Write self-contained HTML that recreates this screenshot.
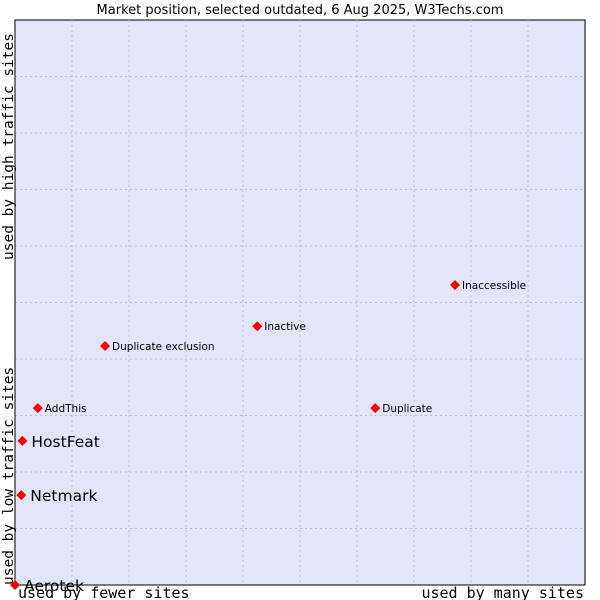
<!DOCTYPE html>
<html><head><meta charset="utf-8"><style>
body{margin:0;background:#fff;width:600px;height:600px;overflow:hidden}
svg{display:block}
</style></head><body>
<svg id="chart" width="600" height="600" xmlns="http://www.w3.org/2000/svg">
<text x="300" y="14" text-anchor="middle" font-family="DejaVu Sans, sans-serif" font-size="13" fill="#000">Market position, selected outdated, 6 Aug 2025, W3Techs.com</text>
<rect x="15" y="20" width="570" height="565" fill="#e2e4f8" stroke="#000" stroke-width="1"/>
<g id="grid"></g>
<line x1="15" y1="20" x2="15" y2="585" stroke="#000"/>
<line x1="15" y1="585" x2="585" y2="585" stroke="#000"/>
<text x="18" y="598" font-family="DejaVu Sans Mono, monospace" font-size="15">used by fewer sites</text>
<text x="584" y="598" text-anchor="end" font-family="DejaVu Sans Mono, monospace" font-size="15">used by many sites</text>
<text transform="translate(13,585) rotate(-90)" font-family="DejaVu Sans Mono, monospace" font-size="14.5">used by low traffic sites</text>
<text transform="translate(13,260) rotate(-90)" font-family="DejaVu Sans Mono, monospace" font-size="14.5">used by high traffic sites</text>
<g id="points"></g>
</svg>
<script>
const names=["Aerotek","Netmark","HostFeat","AddThis","Duplicate exclusion","Inactive","Duplicate","Inaccessible"];
const usage=[0,1.1,1.3,4.0,15.8,42.5,63.2,77.2];
const traffic=[0,15.9,25.5,31.3,42.3,45.8,31.3,53.1];
const bigLabel=[true,true,true,false,false,false,false,false];
const L=15,R=585,T=20,B=585;
const ns="http://www.w3.org/2000/svg";
function xs(v){return L+v/100*(R-L);}
function ys(v){return B-v/100*(B-T);}
const grid=document.getElementById('grid');
for(let i=1;i<10;i++){
 const gx=document.createElementNS(ns,'line');
 gx.setAttribute('x1',xs(i*10));gx.setAttribute('x2',xs(i*10));gx.setAttribute('y1',T);gx.setAttribute('y2',B);
 gx.setAttribute('stroke','#bbb');gx.setAttribute('stroke-dasharray','2,3');
 
 
 grid.appendChild(gx);
 const gy=document.createElementNS(ns,'line');
 gy.setAttribute('y1',ys(i*10));gy.setAttribute('y2',ys(i*10));gy.setAttribute('x1',L);gy.setAttribute('x2',R);
 gy.setAttribute('stroke','#bbb');gy.setAttribute('stroke-dasharray','2,3');
 
 
 grid.appendChild(gy);
}
const pts=document.getElementById('points');
names.forEach((n,i)=>{
 const x=xs(usage[i]),y=ys(traffic[i]);
 const p=document.createElementNS(ns,'polygon');
 p.setAttribute('points',`${x},${y-5} ${x+5},${y} ${x},${y+5} ${x-5},${y}`);
 p.setAttribute('fill','#f00');
 
 
 pts.appendChild(p);
 const t=document.createElementNS(ns,'text');
 t.setAttribute('x',x+(bigLabel[i]?9:7));
 t.setAttribute('y',y+(bigLabel[i]?6:4));
 t.setAttribute('font-family','DejaVu Sans, sans-serif');
 t.setAttribute('font-size',bigLabel[i]?15.5:10.5);
 t.textContent=n;
 
 
 pts.appendChild(t);
});
</script>
</body></html>
